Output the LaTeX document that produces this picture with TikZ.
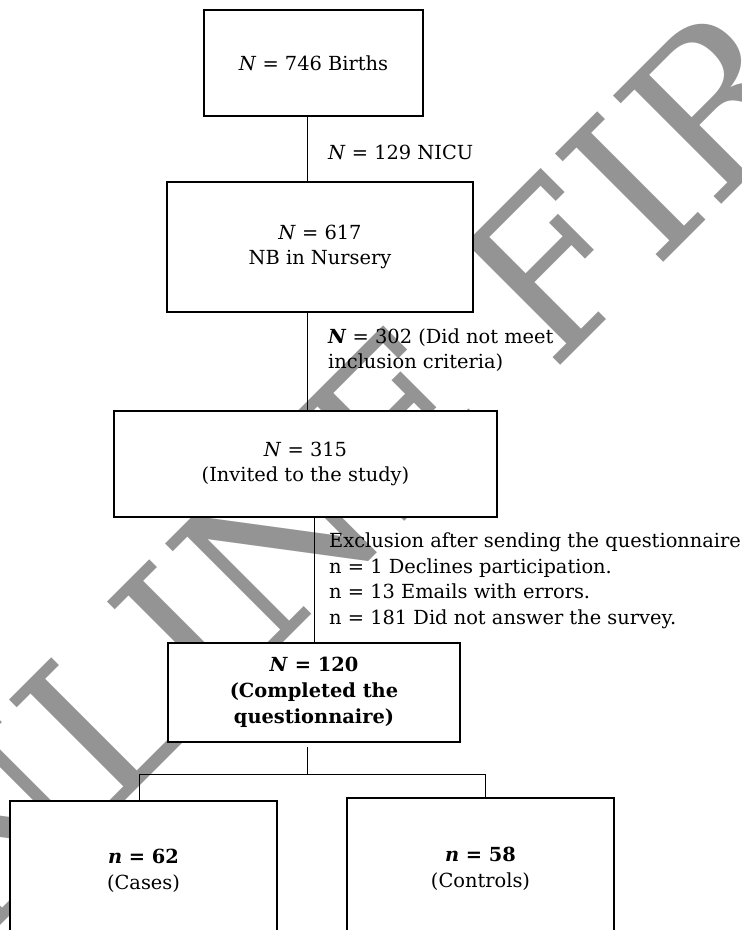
\documentclass[tikz,border=0pt]{standalone}
\usepackage{fontspec}
\setmainfont{DejaVu Serif}
\definecolor{wmgray}{RGB}{148,148,148}
\tikzset{
  box/.style={draw=black, line width=1.5pt, fill=white, align=center, inner sep=0pt},
  note/.style={align=left, anchor=west, inner sep=0pt},
  link/.style={line width=0.8pt},
  wmark/.style={text=wmgray, rotate=45, inner sep=0pt, font=\fontsize{210}{210}\selectfont},
}
\begin{document}
\begin{tikzpicture}[x=1pt,y=-1pt,font=\fontsize{19.4}{25.5}\selectfont]
\useasboundingbox (0,0) rectangle (742,930);
\fill[white] (0,0) rectangle (742,930);
% watermark
\node[wmark, anchor=base west] (wmB) at (552,374) {FIRST};
\node[wmark, anchor=base east] (wmA) at ([shift={(-47,47)}]wmB.base west) {ONLINE};
% boxes
\node[box, minimum width=219, minimum height=106] (b1) at (313.5,63) {\textit{N} = 746 Births};
\node[box, minimum width=306, minimum height=130] (b2) at (320,247) {\textit{N} = 617\\NB in Nursery};
\node[box, minimum width=383, minimum height=106] (b3) at (305.5,464) {\textit{N} = 315\\(Invited to the study)};
\node[box, minimum width=292, minimum height=99, font=\fontsize{19.4}{26}\selectfont\bfseries] (b4) at (314,692.5) {\textit{N} = 120\\(Completed the\\questionnaire)};
\node[box, minimum width=267, minimum height=140] (b5) at (143.5,871) {\textbf{\textit{n} = 62}\\(Cases)};
\node[box, minimum width=267, minimum height=142] (b6) at (480.5,869) {\textbf{\textit{n} = 58}\\(Controls)};
% notes
\node[note] (t1) at (328,152) {\textit{N} = 129 NICU};
\node[note] (t2) at (328,350) {\textbf{\textit{N}} = 302 (Did not meet\\inclusion criteria)};
\node[note] (t3) at (329,581) {Exclusion after sending the questionnaire\\n = 1 Declines participation.\\n = 13 Emails with errors.\\n = 181 Did not answer the survey.};
% connectors
\coordinate (x1) at (307,0);
\coordinate (x2) at (314,0);
\coordinate (c5) at (139,0);
\coordinate (c6) at (485,0);
\coordinate (s4) at (307,747);
\coordinate (j) at (307,774);
\draw[link] (b1.south -| x1) -- (b2.north -| x1);
\draw[link] (b2.south -| x1) -- (b3.north -| x1);
\draw[link] (b3.south -| x2) -- (b4.north -| x2);
\draw[link] (s4) -- (j);
\draw[link] (b5.north -| c5) |- (j) -| (b6.north -| c6);
\end{tikzpicture}
\end{document}
